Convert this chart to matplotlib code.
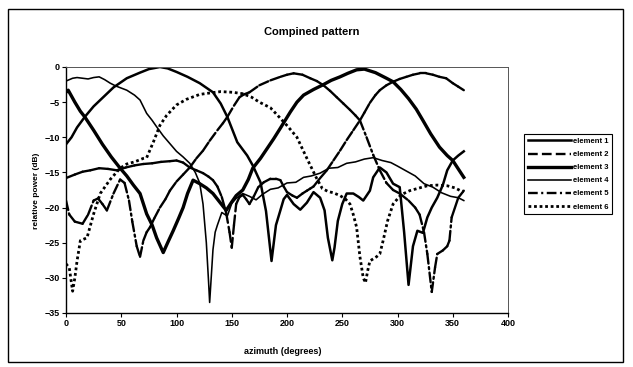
import matplotlib
matplotlib.use('Agg')
import matplotlib.pyplot as plt
from matplotlib.collections import LineCollection
from matplotlib.lines import Line2D
from matplotlib.patches import Rectangle

plt.rcParams['font.family'] = ['Liberation Sans', 'DejaVu Sans']
plt.rcParams['font.weight'] = 'bold'
plt.rcParams['lines.scale_dashes'] = False

title = 'Compined pattern'
xlabel = 'azimuth (degrees)'
ylabel = 'relative power (dB)'
labels = ['element 1', 'element 2', 'element 3', 'element 4', 'element 5', 'element 6']
xticks = [0, 50, 100, 150, 200, 250, 300, 350, 400]
yticks = [0, -5, -10, -15, -20, -25, -30, -35]

# element 1
az1 = [0, 5, 10, 17, 25, 33, 43, 55, 67, 75, 85, 92, 100, 110, 121, 133, 140, 146, 155, 164,
       169, 176, 181, 186, 190, 194, 197, 200, 206, 212, 218, 224, 230, 234, 237, 241, 243, 246, 250, 254,
       260, 265, 269, 275, 278, 284, 290, 296, 302, 306, 310, 314, 318, 323, 327, 331, 336, 341, 345, 350,
       355, 360]
db1 = [-11, -10, -8.6, -7.1, -5.6, -4.4, -2.9, -1.6, -0.8, -0.3, 0, -0.2, -0.7, -1.4, -2.3, -3.6, -5.2, -7.1, -10.7, -12.6,
       -14, -16.4, -20.5, -27.6, -22.5, -20.4, -18.8, -18.2, -19.5, -20.3, -19.3, -17.8, -18.6, -20.4, -24.3, -27.5, -25.7, -21.9, -19.5, -18,
       -18, -18.5, -19, -17.6, -15.7, -14.3, -15, -16.6, -17.1, -23.5, -31, -25.5, -23.3, -23.6, -21.4, -20, -18.6, -16.8, -14.7, -13.3,
       -12.6, -12]

# element 2
az2 = [0, 8, 15, 22, 30, 38, 46, 54, 62, 70, 78, 86, 94, 100, 106, 112, 118, 124, 129, 133,
       137, 141, 145, 148, 150, 152, 154, 157, 160, 163, 166, 170, 174, 179, 185, 190, 194, 197, 200, 205,
       209, 214, 218, 221, 224, 230, 236, 242, 248, 254, 260, 266, 270, 275, 280, 284, 290, 296, 302, 308,
       314, 320, 326, 332, 338, 344, 350, 355, 360]
db2 = [-15.8, -15.3, -14.9, -14.7, -14.4, -14.5, -14.7, -14.3, -14, -13.8, -13.7, -13.5, -13.4, -13.3, -13.6, -14.3, -14.7, -15.1, -15.6, -16.1,
       -17, -18.5, -20.8, -23.5, -25.7, -22.5, -19.5, -18.5, -18.2, -18.8, -19.5, -18.4, -17.1, -16.4, -15.9, -15.9, -16.1, -17, -17.8, -18.3,
       -18.6, -18, -17.6, -17.3, -17, -15.8, -14.7, -13.3, -11.9, -10.4, -9, -7.6, -6.5, -5.1, -4, -3.3, -2.6, -2.1, -1.7, -1.4,
       -1.1, -0.9, -0.9, -1.1, -1.4, -1.6, -2.3, -2.8, -3.3]

# element 3
az3 = [0, 2, 8, 13, 17, 25, 33, 41, 49, 55, 61, 67, 73, 78, 82, 88, 92, 97, 102, 106,
       110, 115, 121, 127, 133, 139, 145, 150, 154, 160, 165, 169, 176, 182, 188, 194, 203, 209, 215, 224,
       233, 240, 248, 255, 263, 270, 280, 290, 296, 303, 310, 317, 323, 330, 338, 345, 350, 355, 360]
db3 = [-3.6, -3.3, -5, -6.3, -7.1, -9, -11, -12.8, -14.4, -15.5, -16.8, -18, -20.9, -22.5, -24.3, -26.4, -25, -23.3, -21.5, -20,
       -18, -16.1, -16.6, -17.2, -18, -19.2, -20.4, -19.2, -18.3, -17.5, -16, -14.4, -13, -11.6, -10.2, -8.7, -6.4, -5, -4, -3.2,
       -2.5, -1.9, -1.4, -0.9, -0.4, -0.3, -0.8, -1.6, -2.1, -3.2, -4.5, -6, -7.6, -9.5, -11.4, -12.6, -13.3, -14.5, -15.7]

# element 4
az4 = [0, 3, 6, 10, 15, 20, 25, 30, 35, 40, 45, 50, 55, 62, 67, 73, 78, 82, 88, 94,
       100, 106, 112, 117, 121, 124, 127, 129, 130, 131, 133, 135, 137, 141, 146, 150, 154, 160, 166, 172,
       178, 185, 192, 200, 208, 215, 222, 230, 238, 246, 254, 262, 270, 278, 286, 294, 300, 308, 316, 324,
       332, 340, 348, 355, 360]
db4 = [-2, -1.8, -1.6, -1.5, -1.6, -1.7, -1.5, -1.4, -1.8, -2.3, -2.7, -3, -3.3, -4, -4.7, -6.6, -7.6, -8.5, -9.8, -10.9,
       -12, -12.8, -13.7, -15, -16.5, -19.5, -25, -30.5, -33.5, -31, -26, -23.5, -22.5, -20.7, -21.2, -19.4, -18.7, -18, -18.4, -18.9,
       -18.1, -17.4, -17.2, -16.5, -16.4, -15.7, -15.5, -15.1, -14.4, -14.3, -13.7, -13.5, -13.1, -12.9, -13.3, -13.6, -14.1, -14.8, -15.5, -16.6,
       -17.1, -17.9, -18.4, -18.6, -19]

# element 5
az5 = [0, 3, 8, 15, 20, 25, 29, 33, 37, 43, 49, 53, 57, 60, 64, 67, 70, 73, 76, 80,
       85, 90, 94, 100, 106, 112, 118, 124, 130, 137, 142, 146, 152, 157, 161, 166, 175, 185, 194, 200,
       206, 214, 221, 227, 233, 239, 245, 251, 257, 262, 266, 272, 278, 284, 290, 296, 302, 310, 316, 320,
       324, 327, 331, 334, 336, 341, 345, 347, 349, 352, 355, 360]
db5 = [-19, -21, -22, -22.3, -21, -19, -18.7, -19.5, -20.4, -18, -16, -16.5, -19, -22, -25.5, -27, -24.7, -23.5, -22.8, -21.5,
       -20, -18.8, -17.6, -16.3, -15.3, -14.3, -13, -11.9, -10.5, -9, -8, -7.1, -5.5, -4.3, -3.9, -3.6, -2.6, -1.9, -1.4, -1.1,
       -0.9, -1.1, -1.6, -2, -2.6, -3.4, -4.3, -5.2, -6.1, -6.9, -7.6, -10, -12.5, -14.7, -16.5, -17.5, -18, -19, -20, -21,
       -23.5, -26.6, -32, -28.5, -26.6, -26.1, -25.5, -24.7, -21.4, -20, -18.6, -17.6]

# element 6
az6 = [0, 3, 6, 8, 10, 13, 16, 19, 25, 31, 40, 49, 55, 62, 70, 73, 79, 85, 91, 100,
       109, 121, 130, 140, 151, 160, 168, 175, 185, 194, 201, 209, 218, 227, 232, 237, 242, 248, 253, 257,
       260, 263, 266, 269, 271, 273, 275, 281, 284, 287, 291, 296, 303, 311, 320, 327, 336, 345, 352, 357,
       360]
db6 = [-28, -28.6, -31.9, -30, -27.6, -24.7, -24.5, -24.3, -20.9, -18, -16, -14.4, -13.8, -13.5, -13, -12.9, -10.7, -8.3, -6.9, -5.4,
       -4.6, -3.9, -3.7, -3.5, -3.6, -3.8, -4.3, -5, -5.8, -7.3, -8.5, -10, -13, -15.9, -17.3, -17.7, -17.9, -18.3, -18.8, -19.5,
       -21, -22.8, -27, -30, -30.7, -29, -27.6, -27, -26.6, -24.7, -21.9, -19.5, -18.2, -17.6, -17.2, -16.9, -16.8, -16.9, -17.2, -17.6,
       -17.7]

W, H = 633, 367
fig = plt.figure(figsize=(W / 100, H / 100), dpi=100)
fig.patch.set_facecolor('white')
ax = fig.add_axes([66 / W, 1 - 313 / H, (508 - 66) / W, (313 - 67) / H])

st = {
    1: dict(lw=1.8),
    2: dict(lw=1.7, ls=(0, (7, 3))),
    3: dict(lw=2.4),
    4: dict(lw=1.15),
    5: dict(lw=1.7, ls=(0, (7, 2.5, 1.5, 2.5))),
    6: dict(lw=2.0, ls=(0, (2, 2))),
}

def seg_dashed(az, db, lw, ls):
    segs = [[(az[i], db[i]), (az[i + 1], db[i + 1])] for i in range(len(az) - 1)]
    lc = LineCollection(segs, colors='black', linewidths=lw, linestyles=[ls], capstyle='round')
    ax.add_collection(lc)

ax.plot(az1, db1, color='black', lw=st[1]['lw'], solid_joinstyle='round')
seg_dashed(az2, db2, st[2]['lw'], st[2]['ls'])
ax.plot(az3, db3, color='black', lw=st[3]['lw'], solid_joinstyle='round')
ax.plot(az4, db4, color='black', lw=st[4]['lw'])
seg_dashed(az5, db5, st[5]['lw'], st[5]['ls'])
ax.plot(az6, db6, color='black', lw=st[6]['lw'], ls=st[6]['ls'])

ax.set_xlim(0, 400)
ax.set_ylim(-35, 0)
ax.set_xticks(xticks)
ax.set_yticks(yticks)
ax.tick_params(direction='out', length=3, width=0.8, labelsize=6.5, pad=1.5)
for lab in ax.get_xticklabels() + ax.get_yticklabels():
    lab.set_fontweight('bold')
for s in ['left', 'bottom']:
    ax.spines[s].set_linewidth(1.0)
for s in ['top', 'right']:
    ax.spines[s].set_linewidth(0.7)
    ax.spines[s].set_color('#555555')

fig.text(312 / W, 1 - 32 / H, title, ha='center', va='center', fontsize=8, fontweight='bold')
fig.text(37 / W, 1 - 191 / H, ylabel, ha='center', va='center', rotation=90, fontsize=6, fontweight='bold')
fig.text(283 / W, 1 - 352 / H, xlabel, ha='center', va='center', fontsize=6.5, fontweight='bold')

handles = [Line2D([], [], color='black', lw=st[i]['lw'], ls=st[i].get('ls', '-')) for i in range(1, 7)]
leg = fig.legend(handles, labels, loc='upper left', bbox_to_anchor=(524 / W, 1 - 134 / H),
                 bbox_transform=fig.transFigure, fontsize=5.5, handlelength=5.6, handletextpad=0.3,
                 labelspacing=0.75, borderpad=0.5, borderaxespad=0, fancybox=False, framealpha=1,
                 edgecolor='black')
leg.get_frame().set_linewidth(0.8)
for t in leg.get_texts():
    t.set_fontweight('bold')

fig.patches.append(Rectangle((8 / W, 1 - 362 / H), (623 - 8) / W, (362 - 9) / H, transform=fig.transFigure,
                             fill=False, edgecolor='black', lw=1.0))

fig.savefig('out.png', dpi=100)
